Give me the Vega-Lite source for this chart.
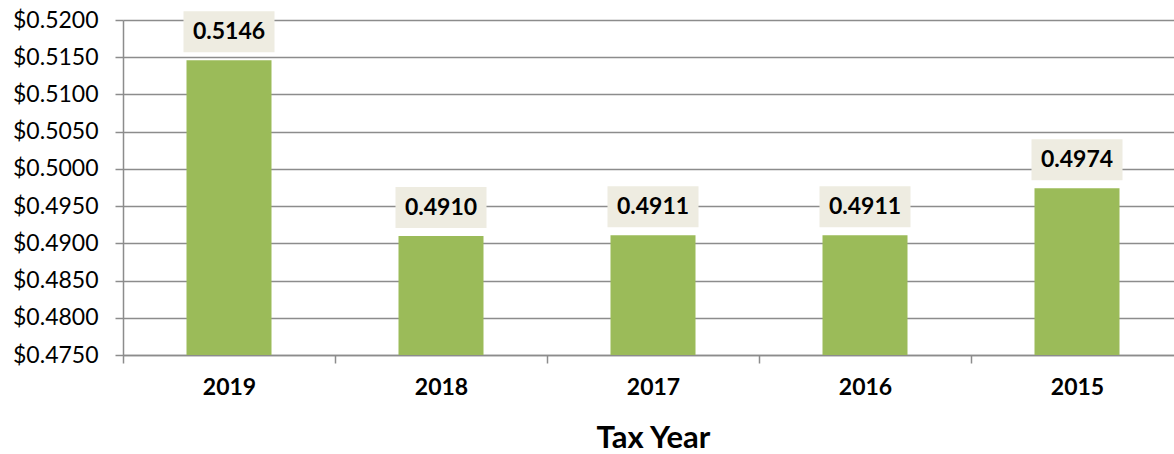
{
  "$schema": "https://vega.github.io/schema/vega-lite/v6.json",
  "width": 1060,
  "height": 335,
  "autosize": {"type": "none"},
  "padding": {"left": 123, "top": 20, "right": 0, "bottom": 99},
  "background": "white",
  "config": {"view": {"stroke": null}, "font": "Lato", "axisY": {"labelOverlap": false}},
  "data": {
    "values": [
      {"year": "2019", "value": 0.5146, "label": "0.5146"},
      {"year": "2018", "value": 0.4910, "label": "0.4910"},
      {"year": "2017", "value": 0.4911, "label": "0.4911"},
      {"year": "2016", "value": 0.4911, "label": "0.4911"},
      {"year": "2015", "value": 0.4974, "label": "0.4974"}
    ]
  },
  "encoding": {
    "x": {
      "field": "year",
      "type": "ordinal",
      "sort": null,
      "scale": {"paddingInner": 0, "paddingOuter": 0},
      "axis": {
        "title": "Tax Year",
        "titleFontSize": 31,
        "titleFontWeight": "bold",
        "titleColor": "black",
        "titlePadding": 24,
        "labelAngle": 0,
        "labelFontSize": 23,
        "labelFontWeight": "bold",
        "labelColor": "black",
        "labelPadding": 13,
        "tickBand": "extent",
        "tickSize": 8,
        "tickWidth": 1.5,
        "tickColor": "#8c8c8c",
        "domainColor": "#8c8c8c",
        "domainWidth": 1.5
      }
    },
    "y": {
      "field": "value",
      "type": "quantitative",
      "scale": {"domain": [0.475, 0.52], "zero": false, "nice": false},
      "axis": {
        "title": null,
        "values": [0.475, 0.48, 0.485, 0.49, 0.495, 0.5, 0.505, 0.51, 0.515, 0.52],
        "format": "$.4f",
        "labelOverlap": false,
        "labelFontSize": 23,
        "labelColor": "black",
        "labelPadding": 17,
        "tickSize": 8,
        "tickWidth": 1.5,
        "tickColor": "#8c8c8c",
        "domainColor": "#8c8c8c",
        "domainWidth": 1.5,
        "gridColor": "#8c8c8c",
        "gridWidth": 1.5,
        "gridOpacity": 1
      }
    }
  },
  "layer": [
    {
      "mark": {"type": "bar", "size": 85, "color": "#9BBB59"},
      "encoding": {
        "y2": {"datum": 0.475}
      }
    },
    {
      "mark": {"type": "bar", "size": 91, "color": "#EEECE1", "yOffset": -49, "y2Offset": -8},
      "encoding": {
        "y2": {"field": "value"}
      }
    },
    {
      "mark": {"type": "text", "fontSize": 23, "fontWeight": "bold", "color": "black", "baseline": "middle", "dy": -28},
      "encoding": {
        "text": {"field": "label"}
      }
    }
  ]
}
